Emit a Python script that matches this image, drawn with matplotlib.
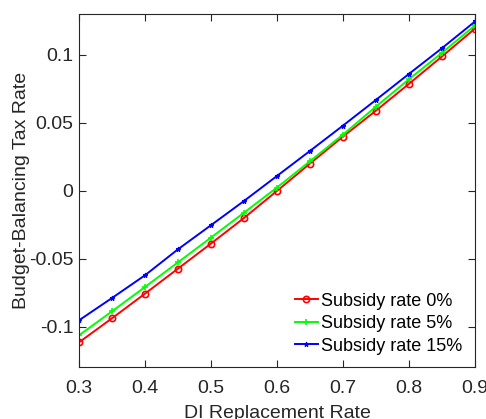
import matplotlib
matplotlib.use("Agg")
import matplotlib.pyplot as plt

plt.rcParams['font.family'] = ['Liberation Sans', 'DejaVu Sans']

replacement_rate = [0.30, 0.35, 0.40, 0.45, 0.50, 0.55, 0.60, 0.65, 0.70, 0.75, 0.80, 0.85, 0.90]
tax_subsidy_0 = [-0.1113, -0.0936, -0.0755, -0.0571, -0.0387, -0.0199, 0.0000,
                 0.0201, 0.0399, 0.0590, 0.0787, 0.0988, 0.1193]
tax_subsidy_5 = [-0.1061, -0.0885, -0.0706, -0.0525, -0.0343, -0.0160, 0.0025,
                 0.0218, 0.0414, 0.0620, 0.0821, 0.1015, 0.1216]
tax_subsidy_15 = [-0.0951, -0.0787, -0.0620, -0.0429, -0.0252, -0.0074, 0.0110,
                  0.0294, 0.0480, 0.0669, 0.0860, 0.1049, 0.1245]
series_labels = ['Subsidy rate 0%', 'Subsidy rate 5%', 'Subsidy rate 15%']
x_ticks = [0.3, 0.4, 0.5, 0.6, 0.7, 0.8, 0.9]
y_ticks = [-0.1, -0.05, 0, 0.05, 0.1]
y_tick_labels = ['-0.1', '-0.05', '0', '0.05', '0.1']

fig = plt.figure(figsize=(4.86, 4.19), dpi=100)
ax = fig.add_axes([79/486, 52/419, 396/486, 353/419])

ax.plot(replacement_rate, tax_subsidy_0, color='#ff0000', lw=1.4, marker='o',
        ms=4.5, mfc='none', mew=1.2, label=series_labels[0])
ax.plot(replacement_rate, tax_subsidy_5, color='#00ff00', lw=1.4, marker='+',
        ms=4.5, mew=1.2, label=series_labels[1])
ax.plot(replacement_rate, tax_subsidy_15, color='#0000ff', lw=1.4, marker='*',
        ms=3.5, mew=0.8, label=series_labels[2])

ax.set_xlim(0.3, 0.9)
ax.set_ylim(-0.1294, 0.130)
ax.set_xticks(x_ticks)
ax.set_xticklabels([f'{v:g}' for v in x_ticks])
ax.set_yticks(y_ticks)
ax.set_yticklabels(y_tick_labels)

axis_color = '#262626'
for s in ax.spines.values():
    s.set_color(axis_color)
    s.set_linewidth(0.8)
ax.tick_params(direction='in', length=5, width=0.8, top=True, right=True,
               colors=axis_color, labelsize=14)
ax.tick_params(axis='x', pad=9)
ax.tick_params(axis='y', pad=4)
for lbl in ax.get_xticklabels() + ax.get_yticklabels():
    lbl.set_color(axis_color)

ax.set_xlabel('DI Replacement Rate', fontsize=14, color=axis_color, labelpad=6)
ax.set_ylabel('Budget-Balancing Tax Rate', fontsize=14, color=axis_color, labelpad=-1)

ax.legend(loc='lower right', frameon=False, fontsize=13, handlelength=1.25,
          handletextpad=0.17, labelspacing=0.3, borderaxespad=0, borderpad=0,
          bbox_to_anchor=(0.967, 0.035))

fig.savefig('out.png', dpi=100)
